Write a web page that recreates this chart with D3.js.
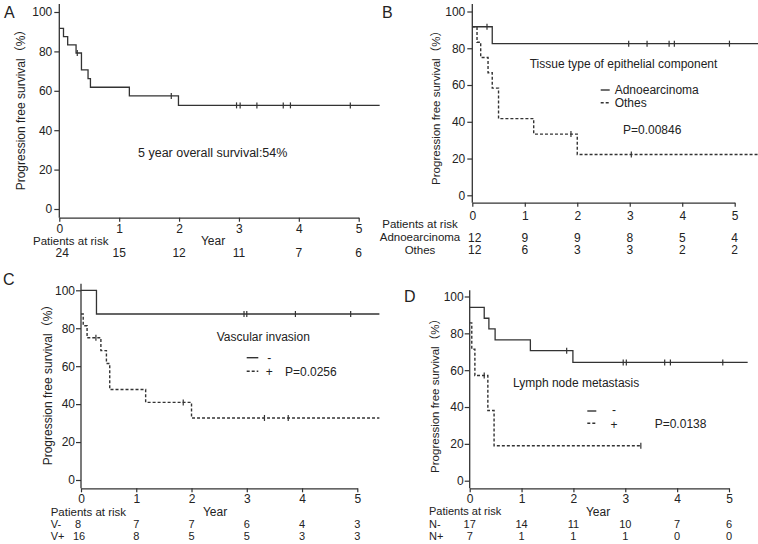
<!DOCTYPE html>
<html>
<head>
<meta charset="utf-8">
<script src="https://cdn.jsdelivr.net/npm/d3@7/dist/d3.min.js"></script>
<style>
  html, body { margin: 0; padding: 0; background: #fff; }
  svg { display: block; }
  text { font-family: "Liberation Sans", Arial, "Noto Sans CJK SC", sans-serif; fill: #222; }
</style>
</head>
<body>
<svg id="chart" width="758" height="544"></svg>
<script>
// ---------------- DATA ----------------
const yearTicks = [0, 1, 2, 3, 4, 5];
const survTicks = [0, 20, 40, 60, 80, 100];
const yLabel = "Progression free survival（%）";

// Panel A: all patients
const allTimes = [0, 0.07, 0.14, 0.28, 0.37, 0.48, 0.52, 1.17, 1.99];
const allSurv = [91.7, 87.5, 83.3, 79.2, 70.6, 66.2, 61.8, 57.4, 52.6];
const allCensor = [0.3, 1.87, 2.96, 3.02, 3.3, 3.74, 3.86, 4.86];
const allRisk = [24, 15, 12, 11, 7, 6];

// Panel B: tissue type
const adenoTimes = [0, 0.38];
const adenoSurv = [91.7, 82.5];
const adenoCensor = [0.28, 2.98, 3.33, 3.75, 3.85, 4.9];
const othersTimes = [0, 0.09, 0.16, 0.3, 0.38, 0.5, 1.17, 2.0];
const othersSurv = [91.7, 83.3, 75, 66.7, 58.3, 41.7, 33.3, 22.2];
const othersCensor = [1.88, 3.03];
const adenoRisk = [12, 9, 9, 8, 5, 4];
const othersRisk = [12, 6, 3, 3, 2, 2];

// Panel C: vascular invasion
const vNegTimes = [0, 0.28];
const vNegSurv = [100, 87.5];
const vNegCensor = [2.95, 3.0, 3.88, 4.88];
const vPosTimes = [0, 0.04, 0.11, 0.36, 0.46, 0.52, 1.17, 2.0];
const vPosSurv = [87.5, 81.3, 75, 68.2, 61.4, 47.7, 40.9, 32.7];
const vPosCensor = [0.27, 1.85, 3.32, 3.75];
const vNegRisk = [8, 7, 7, 6, 4, 3];
const vPosRisk = [16, 8, 5, 5, 3, 3];

// Panel D: lymph node metastasis
const nNegTimes = [0, 0.28, 0.37, 0.49, 1.17, 1.99];
const nNegSurv = [94.1, 88.2, 82.4, 76.5, 70.6, 64.2];
const nNegCensor = [1.87, 2.96, 3.02, 3.76, 3.87, 4.88];
const nPosTimes = [0, 0.04, 0.1, 0.35, 0.47];
const nPosSurv = [85.7, 71.4, 57.1, 38.1, 19.0];
const nPosCensor = [0.28, 3.3];
const nNegRisk = [17, 14, 11, 10, 7, 6];
const nPosRisk = [7, 1, 1, 1, 0, 0];

// ---------------- DRAWING ----------------
const svg = d3.select("#chart");
const INK = "#333";

function makePanel(cfg) {
  const g = svg.append("g");
  const x = d3.scaleLinear().domain([0, 5]).range([cfg.x0, cfg.x5]);
  const y = d3.scaleLinear().domain([0, 100]).range([cfg.y0, cfg.y100]);

  // y axis
  const ya = g.append("g").attr("transform", `translate(${cfg.x0},0)`)
    .call(d3.axisLeft(y).tickValues(survTicks).tickFormat(d3.format("d"))
      .tickSize(5).tickPadding(cfg.yPad).tickSizeOuter(0));
  ya.select(".domain").remove();
  ya.selectAll("line").attr("stroke", INK).attr("stroke-width", 1.2);
  ya.selectAll("text").attr("font-size", 12).attr("font-family", null).attr("fill", "#222");
  g.append("line").attr("x1", cfg.x0).attr("x2", cfg.x0).attr("y1", cfg.topY).attr("y2", cfg.axisY)
    .attr("stroke", INK).attr("stroke-width", 1.3);

  // x axis
  const xa = g.append("g").attr("transform", `translate(0,${cfg.axisY})`)
    .call(d3.axisBottom(x).tickValues(yearTicks).tickFormat(d3.format("d"))
      .tickSize(4).tickPadding(cfg.xPad).tickSizeOuter(0));
  xa.select(".domain").attr("stroke", INK).attr("stroke-width", 1.3);
  xa.selectAll("line").attr("stroke", INK).attr("stroke-width", 1.2);
  xa.selectAll("text").attr("font-size", 12).attr("font-family", null).attr("fill", "#222");

  // y label
  g.append("text").attr("transform", `translate(${cfg.ylx},${cfg.yly}) rotate(-90)`)
    .attr("text-anchor", "middle").attr("dy", "0.35em").attr("font-size", cfg.ylFont || 11.5).text(yLabel);

  // panel letter
  g.append("text").attr("x", cfg.lx).attr("y", cfg.ly).attr("dy", "0.35em")
    .attr("font-size", 16).text(cfg.letter);

  return { g, x, y };
}

function drawCurve(p, times, surv, censor, endT, dashed) {
  const pts = times.map((t, i) => [t, surv[i]]);
  pts.push([endT, surv[surv.length - 1]]);
  const line = d3.line().x(d => p.x(d[0])).y(d => p.y(d[1])).curve(d3.curveStepAfter);
  p.g.append("path").attr("d", line(pts)).attr("fill", "none").attr("stroke", INK)
    .attr("stroke-width", dashed ? 1.4 : 1.3)
    .attr("stroke-dasharray", dashed ? "3,2" : null);
  const level = c => { let s = surv[0]; times.forEach((t, i) => { if (t <= c) s = surv[i]; }); return s; };
  p.g.selectAll(null).data(censor).enter().append("line")
    .attr("x1", d => p.x(d)).attr("x2", d => p.x(d))
    .attr("y1", d => p.y(level(d)) - 3).attr("y2", d => p.y(level(d)) + 3)
    .attr("stroke", INK).attr("stroke-width", 1.2);
}

function txt(g, x, y, s, opts = {}) {
  return g.append("text").attr("x", x).attr("y", y).attr("dy", "0.35em")
    .attr("font-size", opts.size || 12).attr("text-anchor", opts.anchor || "start").text(s);
}

function riskRow(p, values, yPos, firstShift, size) {
  values.forEach((v, i) => {
    txt(p.g, p.x(yearTicks[i]) + (i === 0 ? firstShift : 0), yPos, v, { anchor: "middle", size: size || 12 });
  });
}

function legendLine(g, x1, x2, yy, dashed) {
  g.append("line").attr("x1", x1).attr("x2", x2).attr("y1", yy).attr("y2", yy)
    .attr("stroke", INK).attr("stroke-width", 1.4).attr("stroke-dasharray", dashed ? "3,2" : null);
}

// ---- Panel A ----
const pA = makePanel({ letter: "A", lx: 4, ly: 12, x0: 59.3, x5: 358.7, y0: 209, y100: 12,
  axisY: 217.7, topY: 4, yPad: 2, xPad: 3, ylx: 21, yly: 107, ylFont: 12 });
drawCurve(pA, allTimes, allSurv, allCensor, 5.35, false);
txt(pA.g, 138, 153, "5 year overall survival:54%", { size: 12.5 });
txt(pA.g, 33, 241, "Patients at risk", { size: 11.5 });
txt(pA.g, 213, 241, "Year", { anchor: "middle" });
riskRow(pA, allRisk, 252.7, 3);

// ---- Panel B ----
const pB = makePanel({ letter: "B", lx: 382, ly: 12, x0: 472.3, x5: 734.7, y0: 195.3, y100: 11.5,
  axisY: 202.7, topY: 4, yPad: 2, xPad: 5, ylx: 436, yly: 105 });
drawCurve(pB, othersTimes, othersSurv, othersCensor, 5.45, true);
drawCurve(pB, adenoTimes, adenoSurv, adenoCensor, 5.45, false);
txt(pB.g, 529.7, 64, "Tissue type of epithelial component");
legendLine(pB.g, 600.7, 609.7, 90, false);
txt(pB.g, 614.7, 90, "Adnoearcinoma");
legendLine(pB.g, 600.7, 609.7, 102.7, true);
txt(pB.g, 614.7, 102.7, "Othes");
txt(pB.g, 623, 130, "P=0.00846");
txt(pB.g, 420, 224.3, "Patients at risk", { anchor: "middle", size: 11.5 });
txt(pB.g, 420, 237.3, "Adnoearcinoma", { anchor: "middle", size: 11.5 });
txt(pB.g, 420, 250, "Othes", { anchor: "middle", size: 11.5 });
riskRow(pB, adenoRisk, 237.3, 2.5);
riskRow(pB, othersRisk, 250, 2.5);

// ---- Panel C ----
const pC = makePanel({ letter: "C", lx: 3, ly: 279, x0: 81, x5: 357.3, y0: 480, y100: 290.3,
  axisY: 488.3, topY: 283.7, yPad: 1, xPad: 2.5, ylx: 48, yly: 382, ylFont: 12 });
drawCurve(pC, vPosTimes, vPosSurv, vPosCensor, 5.4, true);
drawCurve(pC, vNegTimes, vNegSurv, vNegCensor, 5.4, false);
txt(pC.g, 216.7, 336.3, "Vascular invasion");
legendLine(pC.g, 246.7, 258.3, 357.7, false);
txt(pC.g, 269.3, 357.7, "-", { anchor: "middle" });
legendLine(pC.g, 246.7, 258.3, 371.3, true);
txt(pC.g, 269.3, 371.3, "+", { anchor: "middle" });
txt(pC.g, 285, 371.3, "P=0.0256");
txt(pC.g, 50.7, 511.5, "Patients at risk", { size: 11.5 });
txt(pC.g, 215, 511.5, "Year", { anchor: "middle" });
txt(pC.g, 50.7, 524, "V-", { size: 11 });
txt(pC.g, 50.7, 536.3, "V+", { size: 11 });
riskRow(pC, vNegRisk, 524, -3, 11);
riskRow(pC, vPosRisk, 536.3, -2, 11);

// ---- Panel D ----
const pD = makePanel({ letter: "D", lx: 404, ly: 296, x0: 469.7, x5: 729, y0: 480.7, y100: 296.5,
  axisY: 488.3, topY: 290.3, yPad: 1, xPad: 2, ylx: 435, yly: 393, ylFont: 11.5 });
drawCurve(pD, nPosTimes, nPosSurv, nPosCensor, 3.3, true);
drawCurve(pD, nNegTimes, nNegSurv, nNegCensor, 5.36, false);
txt(pD.g, 513, 383, "Lymph node metastasis");
legendLine(pD.g, 587.3, 596.3, 411, false);
txt(pD.g, 614, 410, "-", { anchor: "middle" });
legendLine(pD.g, 587.3, 596.3, 423.3, true);
txt(pD.g, 614, 424.5, "+", { anchor: "middle" });
txt(pD.g, 654.7, 423.3, "P=0.0138");
txt(pD.g, 429, 511.5, "Patients at risk", { size: 11 });
txt(pD.g, 598, 511.5, "Year", { anchor: "middle" });
txt(pD.g, 429, 524, "N-", { size: 11 });
txt(pD.g, 429, 536.5, "N+", { size: 11 });
riskRow(pD, nNegRisk, 524, 0, 11);
riskRow(pD, nPosRisk, 536.5, 0, 11);
</script>
</body>
</html>
